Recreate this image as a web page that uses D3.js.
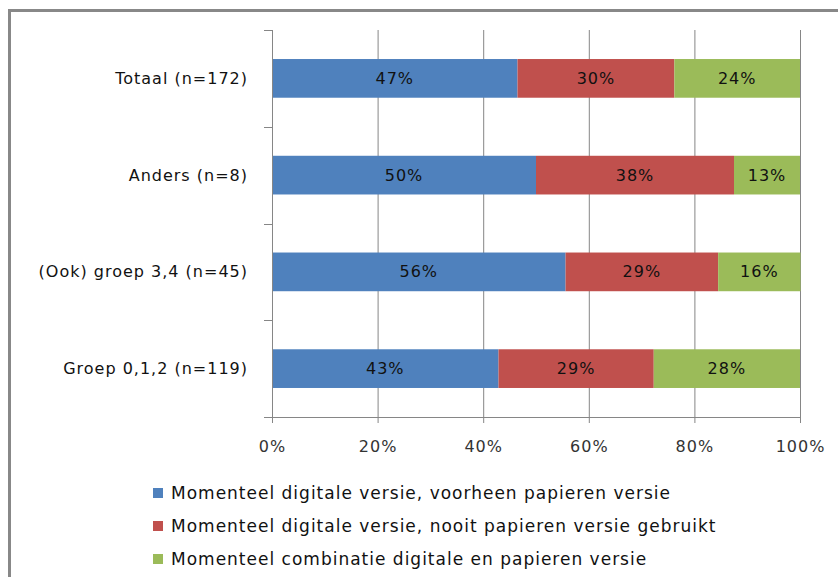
<!DOCTYPE html>
<html>
<head>
<meta charset="utf-8">
<script src="https://cdn.jsdelivr.net/npm/d3@7"></script>
<style>
  body { margin: 0; background: #fff; }
  svg { display: block; }
  text { font-family: "DejaVu Sans", sans-serif; letter-spacing: 1px; }
</style>
</head>
<body>
<svg id="chart" width="838" height="577"></svg>
<script>
// Categories (top to bottom) and the share of each answer
let categories = ['Totaal (n=172)', 'Anders (n=8)', '(Ook) groep 3,4 (n=45)', 'Groep 0,1,2 (n=119)'],
    seriesNames = [
      'Momenteel digitale versie, voorheen papieren versie',
      'Momenteel digitale versie, nooit papieren versie gebruikt',
      'Momenteel combinatie digitale en papieren versie'
    ],
    voorheenPapier = [0.465, 0.500, 0.556, 0.429],
    nooitPapier    = [0.297, 0.375, 0.289, 0.294],
    combinatie     = [0.238, 0.125, 0.156, 0.277],
    labelValues    = [[47, 30, 24], [50, 38, 13], [56, 29, 16], [43, 29, 28]],
    tickValues     = [0, 0.2, 0.4, 0.6, 0.8, 1.0],
    colors         = ['#4F81BD', '#C0504D', '#9BBB59'];

let svg = d3.select('#chart'),
    gridColor = '#868686',
    plotLeft = 272, plotRight = 800, plotTop = 30, plotBottom = 417;

// Outer frame (left and top edges are the only ones visible)
svg.append('path')
    .attr('d', 'M9.5,577 V10.5 H838')
    .attr('fill', 'none')
    .attr('stroke', '#888')
    .attr('stroke-width', 3);

let x = d3.scaleLinear().domain([0, 1]).range([plotLeft, plotRight]);
let y = d3.scaleBand().domain(categories).range([plotTop, plotBottom])
    .paddingInner(0.6).paddingOuter(0.3);

// Vertical gridlines
svg.append('g').selectAll('line')
    .data(tickValues.slice(1))
    .join('line')
    .attr('x1', d => x(d) + 0.5).attr('x2', d => x(d) + 0.5)
    .attr('y1', plotTop).attr('y2', plotBottom)
    .attr('stroke', gridColor);

// Stack the series
let rows = categories.map((c, i) => ({
  cat: c, s0: voorheenPapier[i], s1: nooitPapier[i], s2: combinatie[i], labels: labelValues[i]
}));
let stacked = d3.stack().keys(['s0', 's1', 's2'])(rows);

stacked.forEach((layer, k) => {
  let g = svg.append('g');
  g.selectAll('rect')
      .data(layer)
      .join('rect')
      .attr('x', d => x(d[0]))
      .attr('width', d => x(d[1]) - x(d[0]))
      .attr('y', d => y(d.data.cat))
      .attr('height', y.bandwidth())
      .attr('fill', colors[k]);
  g.selectAll('text')
      .data(layer)
      .join('text')
      .attr('x', d => (x(d[0]) + x(d[1])) / 2)
      .attr('y', d => y(d.data.cat) + y.bandwidth() / 2)
      .attr('dy', '0.35em')
      .attr('text-anchor', 'middle')
      .attr('font-size', 16)
      .attr('fill', '#111')
      .text(d => d.data.labels[k] + '%');
});

// Left axis with ticks at the band boundaries
let step = y.step(),
    bounds = categories.map(c => y(c) - step * 0.3).concat([plotBottom]);
svg.append('line')
    .attr('x1', plotLeft + 0.5).attr('x2', plotLeft + 0.5)
    .attr('y1', plotTop).attr('y2', plotBottom)
    .attr('stroke', gridColor);
svg.append('g').selectAll('line')
    .data(bounds)
    .join('line')
    .attr('x1', plotLeft - 8).attr('x2', plotLeft)
    .attr('y1', d => Math.round(d) + 0.5).attr('y2', d => Math.round(d) + 0.5)
    .attr('stroke', gridColor);
svg.append('g').selectAll('text')
    .data(categories)
    .join('text')
    .attr('x', plotLeft - 24)
    .attr('y', d => y(d) + y.bandwidth() / 2)
    .attr('dy', '0.35em')
    .attr('text-anchor', 'end')
    .attr('font-size', 16)
    .attr('fill', '#111')
    .text(d => d);

// Bottom axis
let xAxis = d3.axisBottom(x)
    .tickValues(tickValues)
    .tickFormat(d3.format('.0%'))
    .tickSize(6)
    .tickSizeOuter(0)
    .tickPadding(18);
let ax = svg.append('g')
    .attr('transform', `translate(0,${plotBottom})`)
    .call(xAxis);
ax.select('.domain').attr('stroke', gridColor).attr('d', `M${plotLeft - 8},0.5H${plotRight}`);
ax.selectAll('.tick line').attr('stroke', gridColor);
ax.selectAll('.tick text')
    .attr('font-size', 16)
    .attr('font-family', '"DejaVu Sans", sans-serif')
    .attr('fill', '#333');

// Legend
let legend = svg.append('g').selectAll('g')
    .data(seriesNames)
    .join('g')
    .attr('transform', (d, i) => `translate(153,${493 + i * 33})`);
legend.append('rect')
    .attr('x', 0).attr('y', -5)
    .attr('width', 10).attr('height', 10)
    .attr('fill', (d, i) => colors[i]);
legend.append('text')
    .attr('x', 18)
    .attr('dy', '0.35em')
    .attr('font-size', 17)
    .attr('fill', '#111')
    .text(d => d);
</script>
</body>
</html>
